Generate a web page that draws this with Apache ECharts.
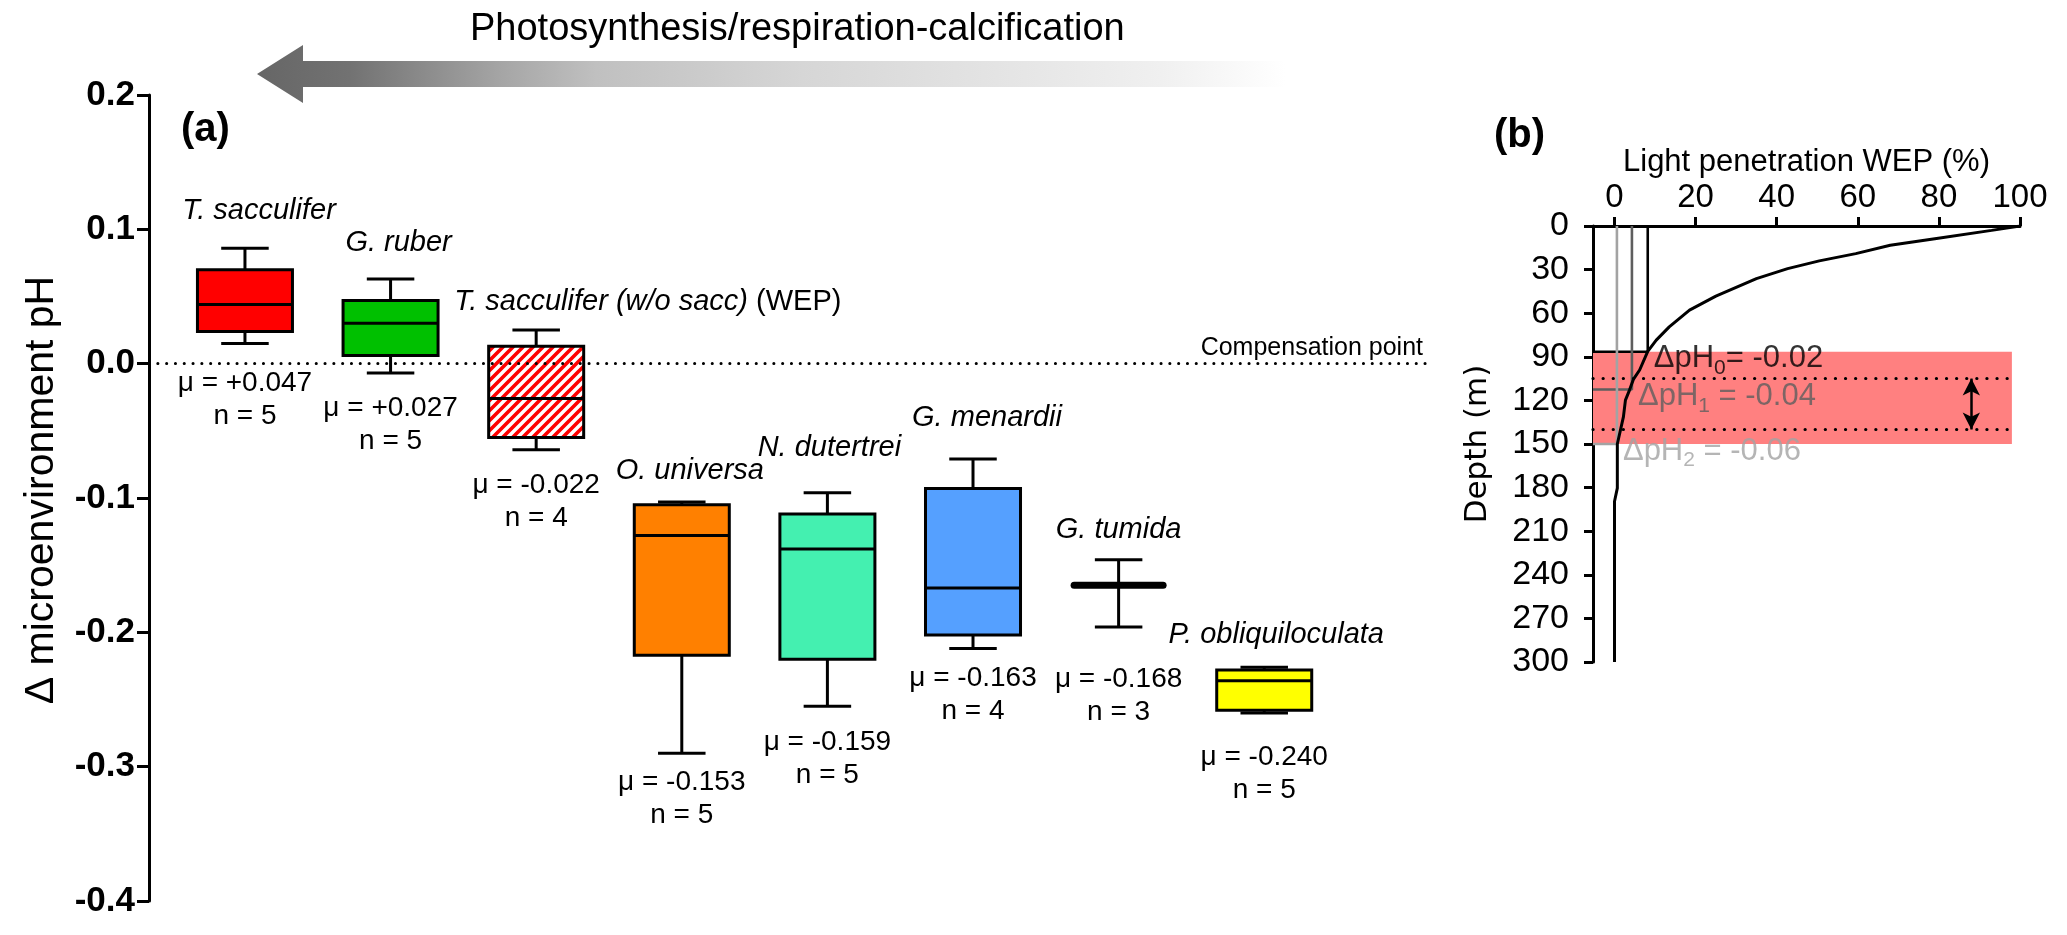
<!DOCTYPE html>
<html><head><meta charset="utf-8">
<script src="https://cdn.jsdelivr.net/npm/echarts@6/dist/echarts.min.js"></script>
<style>html,body{margin:0;padding:0;background:#fff}#c{width:2067px;height:935px}</style>
</head><body><div id="c"></div>
<script>
// ---------- Panel (a) data ----------
const species = ['T. sacculifer','G. ruber','T. sacculifer (w/o sacc)','O. universa','N. dutertrei','G. menardii','G. tumida','P. obliquiloculata'];
const nameSuffix = ['','','(WEP)','','','','',''];
const whiskerLow  = [0.015, -0.007, -0.064, -0.290, -0.255, -0.212, -0.196, -0.260];
const quart1      = [0.024,  0.006, -0.055, -0.217, -0.220, -0.202, -0.165, -0.258];
const medians     = [0.044,  0.030, -0.026, -0.128, -0.138, -0.167, -0.165, -0.236];
const quart3      = [0.070,  0.047,  0.013, -0.105, -0.112, -0.093, -0.165, -0.228];
const whiskerHigh = [0.086,  0.063,  0.025, -0.103, -0.096, -0.071, -0.146, -0.226];
const meanLabels  = ['+0.047','+0.027','-0.022','-0.153','-0.159','-0.163','-0.168','-0.240'];
const nCounts     = [5,5,4,5,5,4,3,5];
const compensationPH = 0;

// ---------- Panel (b) data ----------
const lightPct = [100, 93, 79, 68, 59.5, 50.5, 42.7, 35, 25, 18.5, 13.5, 10.3, 8.2, 6.2, 4.7, 3.7, 2.7, 2.2, 0.7, 0.7, 0, 0];
const depthM   = [0, 3, 8.7, 13.2, 19, 24, 29.3, 36.2, 48.3, 57.9, 69.4, 78.5, 86.3, 99.1, 105.3, 112.9, 119.8, 131.3, 150, 180.4, 189.6, 300];
const compLight = [8.2, 4.3, 0.6];
const compDepth = [86.5, 112.5, 150];
const deltaPHLabel = ['= -0.02', ' = -0.04', ' = -0.06'];
const deltaPHSub = ['0','1','2'];
const bandDepth = [86.5, 150];
const bandLight = 98;
const rangeDepth = [105, 140];
const rangeArrowLight = 88;
const lightTicks = [0,20,40,60,80,100];

// ---------- layout / style ----------
const FONT = "'Liberation Sans', Arial, sans-serif";
const boxFills = ['#ff0000','#00c000','hatch','#ff8000','#44f0b0','#55a0ff','#000000','#ffff00'];
const nameDx = [14, 8, -82, 8, 2, 14, 0, 12];
const nameAlign = ['center','center','left','center','center','center','center','center'];
const nameDy = [-37, -36, -28, -31, -45, -41, -30, -32];
const statDy = [40, 35, 36, 29, 36, 30, 52, 44];
const compColors = ['#000000', '#5e5e5e', '#a3a3a3'];
const BOX_W = 0.6525;
const X_MIN_A = 0.341, X_MAX_A = 9.111;
const X_MIN_B = -5.3;

function hatchPattern() {
  const s = 10, c = document.createElement('canvas');
  c.width = s; c.height = s;
  const g = c.getContext('2d');
  g.fillStyle = '#fff'; g.fillRect(0,0,s,s);
  g.strokeStyle = '#ff0000'; g.lineWidth = 3.6;
  g.beginPath();
  g.moveTo(-2, s+2); g.lineTo(s+2, -2);
  g.moveTo(-s/2-2, s/2+2); g.lineTo(s/2+2, -s/2-2);
  g.moveTo(s/2-2, s*1.5+2); g.lineTo(s*1.5+2, s/2-2);
  g.stroke();
  return {image: c, repeat: 'repeat'};
}
const hatch = hatchPattern();

function renderBox(params, api) {
  const i = params.dataIndex;
  const x = api.value(0);
  const pLo = api.coord([x, api.value(1)]);
  const pQ1 = api.coord([x, api.value(2)]);
  const pMed = api.coord([x, api.value(3)]);
  const pQ3 = api.coord([x, api.value(4)]);
  const pHi = api.coord([x, api.value(5)]);
  const w = api.size([BOX_W, 0])[0];
  const cx = pLo[0], hw = w / 2, cap = w / 4;
  const ln = (x1, y1, x2, y2, lw, lc) => ({type:'line', shape:{x1, y1, x2, y2}, style:{stroke:'#000', lineWidth: lw || 3, lineCap: lc || 'butt'}});
  const ch = [];
  ch.push(ln(cx, pHi[1], cx, pQ3[1]));
  ch.push(ln(cx, pQ1[1], cx, pLo[1]));
  ch.push(ln(cx - cap, pHi[1], cx + cap, pHi[1]));
  ch.push(ln(cx - cap, pLo[1], cx + cap, pLo[1]));
  if (Math.abs(pQ1[1] - pQ3[1]) >= 3) {
    const f = boxFills[i] === 'hatch' ? hatch : boxFills[i];
    ch.push({type:'rect', shape:{x: cx - hw, y: pQ3[1], width: w, height: pQ1[1] - pQ3[1]}, style:{fill: f, stroke:'#000', lineWidth: 3}});
    ch.push(ln(cx - hw, pMed[1], cx + hw, pMed[1]));
  } else {
    ch.push(ln(cx - hw + 3, pMed[1], cx + hw - 3, pMed[1], 7, 'round'));
  }
  const nameText = nameSuffix[i] ? '{i|' + species[i] + '} {r|' + nameSuffix[i] + '}' : '{i|' + species[i] + '}';
  ch.push({type:'text', style:{
    text: nameText, x: cx + nameDx[i], y: pHi[1] + nameDy[i], align: nameAlign[i], verticalAlign:'middle',
    fill:'#000', fontSize: 29, fontFamily: FONT,
    rich: {i:{fontStyle:'italic', fontSize:29, fontFamily:FONT, fill:'#000'}, r:{fontSize:29, fontFamily:FONT, fill:'#000'}}
  }});
  ch.push({type:'text', style:{text:'\u03bc = ' + meanLabels[i], x: cx, y: pLo[1] + statDy[i], align:'center', verticalAlign:'middle', fill:'#000', fontSize:28, fontFamily:FONT}});
  ch.push({type:'text', style:{text:'n = ' + nCounts[i], x: cx, y: pLo[1] + statDy[i] + 33, align:'center', verticalAlign:'middle', fill:'#000', fontSize:28, fontFamily:FONT}});
  return {type:'group', children: ch};
}

const boxData = species.map((s, i) => [i + 1, whiskerLow[i], quart1[i], medians[i], quart3[i], whiskerHigh[i]]);

const chart = echarts.init(document.getElementById('c'), null, {renderer:'canvas'});
const option = {
  animation: false,
  backgroundColor: '#fff',
  textStyle: {fontFamily: FONT},
  grid: [
    {left: 149, width: 1277, top: 95, height: 806},
    {left: 1593, width: 427, top: 226, height: 436}
  ],
  xAxis: [
    {gridIndex: 0, type:'value', min: X_MIN_A, max: X_MAX_A, show: false},
    {gridIndex: 1, type:'value', position:'top', min: X_MIN_B, max: 100,
     name:'Light penetration WEP (%)', nameLocation:'middle', nameGap: 48,
     nameTextStyle:{fontSize: 31, color:'#000', fontFamily: FONT},
     axisLine:{show:true, onZero:false, lineStyle:{color:'#000', width:3}},
     axisTick:{show:true, customValues: lightTicks, length: 9, lineStyle:{color:'#000', width:3}},
     axisLabel:{customValues: lightTicks, fontSize: 33, color:'#000', margin: 12, fontFamily: FONT},
     splitLine:{show:false}}
  ],
  yAxis: [
    {gridIndex: 0, type:'value', min:-0.4, max:0.2, interval:0.1,
     axisLine:{show:true, onZero:false, lineStyle:{color:'#000', width:3}},
     axisTick:{show:true, length: 12, lineStyle:{color:'#000', width:3}},
     axisLabel:{fontSize: 35, fontWeight:'bold', color:'#000', margin: 14, fontFamily: FONT,
       formatter: v => v.toFixed(1)},
     splitLine:{show:false}},
    {gridIndex: 1, type:'value', inverse: true, min: 0, max: 300, interval: 30,
     name:'Depth (m)', nameLocation:'middle', nameRotate: 90, nameGap: 100,
     nameTextStyle:{fontSize: 31, color:'#000', fontFamily: "'DejaVu Sans', sans-serif"},
     axisLine:{show:true, onZero:false, lineStyle:{color:'#000', width:3}},
     axisTick:{show:true, length: 9, lineStyle:{color:'#000', width:3}},
     axisLabel:{fontSize: 34, color:'#000', margin: 24, fontFamily: FONT},
     splitLine:{show:false}}
  ],
  graphic: [
    {type:'polygon', z: 0,
     shape:{points:[[257,74],[303,45],[303,61],[1285,61],[1285,87],[303,87],[303,103]]},
     style:{fill: new echarts.graphic.LinearGradient(0,0,1,0,[
       {offset:0, color:'#666666'},{offset:0.09, color:'#727272'},{offset:0.24, color:'#a6a6a6'},
       {offset:0.33, color:'#c0c0c0'},{offset:0.53, color:'#d6d6d6'},{offset:0.72, color:'#e4e4e4'},
       {offset:0.88, color:'#f0f0f0'},{offset:1, color:'#ffffff'}])}},
    {type:'text', left: 470, top: 11, style:{text:'Photosynthesis/respiration-calcification', fontSize: 38, fontFamily: FONT, fill:'#000'}},
    {type:'text', left: 181, top: 110, style:{text:'(a)', fontSize: 40, fontWeight:'bold', fontFamily: FONT, fill:'#000'}},
    {type:'text', left: 1494, top: 116, style:{text:'(b)', fontSize: 40, fontWeight:'bold', fontFamily: FONT, fill:'#000'}},
    {type:'text', x: 42, y: 490, rotation: Math.PI / 2,
     style:{text:'\u0394 microenvironment pH', fontSize: 41, fontFamily: FONT, fill:'#000', align:'center', verticalAlign:'middle'}}
  ],
  series: [
    {type:'line', xAxisIndex:0, yAxisIndex:0, data: [], symbol:'none', z: 1,
     markLine:{silent:true, symbol:'none', animation:false,
       lineStyle:{color:'#000', width:3, type:[0.1, 8.7], cap:'round'},
       label:{show:true, position:'insideEndTop', formatter:'Compensation point', fontSize: 25, color:'#000', distance: 3, fontFamily: FONT},
       data:[{yAxis: compensationPH}]}},
    {type:'custom', xAxisIndex:0, yAxisIndex:0, data: boxData, renderItem: renderBox, clip: false, z: 3,
     encode:{x:0, y:[1,2,3,4,5]}},
    {type:'line', xAxisIndex:1, yAxisIndex:1, data:[[X_MIN_B, bandDepth[0]]], symbol:'none', z: 1,
     markArea:{silent:true, itemStyle:{color:'#ff8080'},
       data:[[{coord:[X_MIN_B, bandDepth[0]]},{coord:[bandLight, bandDepth[1]]}]]},
     markLine:{silent:true, symbol:'none', animation:false, label:{show:false},
       lineStyle:{color:'#000', width:3.2, type:[0.1, 10], cap:'round'},
       data: rangeDepth.map(d => [{coord:[X_MIN_B, d]},{coord:[bandLight, d]}]).concat([
         [{coord:[rangeArrowLight, rangeDepth[0]], symbol:'arrow', symbolSize:[13,17],
           lineStyle:{type:'solid', width:2.5, cap:'butt'}},
          {coord:[rangeArrowLight, rangeDepth[1]], symbol:'arrow', symbolSize:[13,17]}]
       ])}},
    ...compLight.map((l, k) => ({
      type:'line', xAxisIndex:1, yAxisIndex:1, symbol:'none', z: 3,
      data:[[X_MIN_B, compDepth[k]],[l, compDepth[k]],[l, 0]],
      lineStyle:{color: compColors[k], width: 2.6}
    })),
    {type:'line', xAxisIndex:1, yAxisIndex:1, symbol:'none', z: 4,
     data: lightPct.map((l, k) => [l, depthM[k]]),
     lineStyle:{color:'#000', width:3}},
    {type:'scatter', xAxisIndex:1, yAxisIndex:1, symbolSize: 0, z: 6, silent: true,
     data: compLight.map((l, k) => ({
       value:[l, compDepth[k]],
       label:{show:true, position:'right', distance: 4, offset:[2, 7], color: compColors[k],
         formatter: '{a|\u0394pH}{s|' + deltaPHSub[k] + '}{a|' + deltaPHLabel[k] + '}',
         rich:{a:{fontSize:31, lineHeight:40, verticalAlign:'middle', color: compColors[k], fontFamily: FONT},
               s:{fontSize:21, lineHeight:40, verticalAlign:'bottom', color: compColors[k], fontFamily: FONT}}}
     }))}
  ]
};
chart.setOption(option);
</script></body></html>
